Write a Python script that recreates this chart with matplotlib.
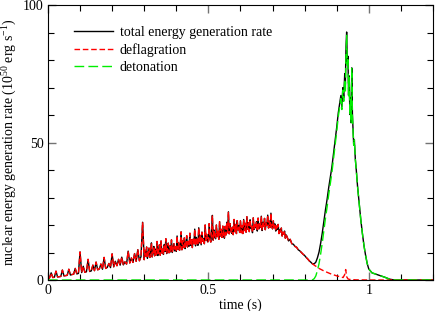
import numpy as np
import matplotlib.pyplot as plt
from matplotlib.ticker import MultipleLocator

plt.rcParams['font.family'] = ['Liberation Serif', 'DejaVu Serif']
plt.rcParams['mathtext.fontset'] = 'custom'
plt.rcParams['mathtext.rm'] = 'Liberation Serif'
plt.rcParams['mathtext.default'] = 'regular'

# deflagration rate (10^50 erg/s)
# early part, every 0.005 s from 0 to 0.295
defl_a = [
    0.3, 0.8, 2.6, 0.9, 1.0, 3.2, 1.1, 1.2, 1.3, 3.6,
    1.5, 1.6, 1.7, 3.9, 1.8, 2.0, 2.1, 4.2, 2.2, 2.4,
    10.2, 2.7, 5.0, 2.8, 3.0, 7.5, 3.1, 3.3, 5.4, 3.4,
    6.5, 3.7, 4.0, 5.8, 3.9, 8.2, 4.2, 4.6, 6.0, 4.5,
    9.5, 4.8, 6.8, 5.2, 7.5, 5.4, 8.3, 5.5, 6.6, 5.8,
    10.5, 6.2, 8.0, 6.4, 9.6, 6.8, 11.0, 7.0, 8.5, 21.0,
]
# noisy middle part, every 0.0025 s from 0.30 to 0.7475
defl_b = [
    7.4, 10.8, 8.6, 12.0, 7.9, 9.5, 11.6, 8.2, 10.1, 13.5, 8.4, 9.8, 12.2, 8.8, 11.2, 9.1, 14.0, 8.9, 10.6, 12.8,
    9.0, 14.2, 9.8, 11.2, 9.3, 12.9, 10.4, 15.0, 9.6, 11.8, 13.4, 9.9, 12.4, 10.2, 14.6, 10.0, 11.5, 13.2, 10.6, 12.1,
    10.4, 16.0, 11.2, 13.5, 10.8, 12.6, 17.5, 11.0, 14.2, 11.8, 15.3, 11.4, 13.1, 16.1, 12.0, 14.0, 12.3, 17.0, 12.6, 14.6,
    11.8, 14.8, 13.2, 18.5, 12.4, 15.5, 13.8, 12.6, 19.0, 13.5, 16.2, 12.8, 17.4, 14.1, 15.0, 13.2, 20.0, 14.4, 16.6, 13.9,
    14.0, 20.5, 15.2, 13.8, 17.0, 23.5, 14.5, 18.2, 15.6, 15.0, 20.0, 15.8, 17.6, 14.8, 21.2, 16.0, 18.4, 15.5, 19.6, 16.3,
    15.2, 19.5, 16.4, 21.0, 17.2, 24.8, 16.8, 20.5, 18.0, 17.0, 19.2, 16.5, 22.0, 17.6, 20.2, 16.9, 21.6, 18.2, 19.8, 17.3,
    21.5, 17.2, 19.8, 16.9, 22.0, 18.0, 20.6, 17.4, 23.0, 18.5, 20.8, 17.6, 21.9, 18.8, 19.5, 17.2, 22.6, 18.4, 20.1, 19.0,
    21.2, 17.8, 22.5, 18.6, 20.4, 19.2, 23.2, 18.0, 21.0, 19.5, 22.4, 18.3, 20.7, 19.8, 23.6, 18.9, 21.4, 19.1, 24.3, 19.6,
    18.6, 21.5, 19.0, 20.4, 17.8, 19.6, 18.4, 20.2, 16.9, 18.2, 17.5, 18.9, 16.0, 17.3, 16.6, 17.8, 15.2, 16.4, 15.8, 15.0,
]
# decline, every 0.005 s from 0.75 to 0.85
defl_c = [
    14.2, 14.8, 13.2, 13.0, 12.2, 11.9, 11.0, 10.6, 10.0, 9.4,
    8.9, 8.2, 7.6, 6.9, 6.4, 5.8, 5.4, 5.0, 4.6, 4.2, 3.9,
]
# tail
t_defl_tail = [0.86, 0.87, 0.88, 0.89, 0.90, 0.91, 0.92, 0.925, 0.928, 0.931,
               0.935, 0.94, 0.96, 1.0, 1.2]
defl_tail = [3.3, 2.8, 2.3, 1.9, 1.5, 1.2, 0.9, 2.0, 3.8, 1.2,
             0.4, 0.2, 0.05, 0.0, 0.0]

t_defl = np.concatenate([
    0.005 * np.arange(len(defl_a)),
    0.30 + 0.0025 * np.arange(len(defl_b)),
    0.75 + 0.005 * np.arange(len(defl_c)),
    t_defl_tail,
])
defl = np.array(defl_a + defl_b + defl_c + defl_tail)

# detonation rate
t_det = [0.0, 0.824, 0.83, 0.835, 0.84, 0.845, 0.85, 0.855, 0.86, 0.865,
         0.87, 0.875, 0.88, 0.885, 0.89, 0.895, 0.9, 0.905, 0.91, 0.913,
         0.916, 0.919, 0.922, 0.925, 0.927, 0.929, 0.931, 0.933, 0.935, 0.937,
         0.939, 0.941, 0.943, 0.945, 0.947, 0.949, 0.951, 0.953, 0.955, 0.958,
         0.961, 0.965, 0.97, 0.975, 0.98, 0.985, 0.99, 0.995, 1.0, 1.01,
         1.03, 1.05, 1.065, 1.08, 1.2]
det = [0.0, 0.0, 0.5, 1.5, 3.5, 6.0, 9.5, 13.5, 18.0, 22.5,
       26.5, 31.0, 35.0, 39.0, 44.0, 49.0, 54.0, 59.5, 63.5, 66.0,
       62.0, 69.0, 65.0, 73.0, 68.0, 82.0, 89.0, 78.0, 81.0, 67.0,
       74.0, 60.0, 66.0, 57.0, 77.0, 60.0, 54.0, 49.0, 51.0, 44.0,
       40.0, 34.0, 28.0, 22.0, 17.0, 12.5, 9.0, 6.0, 4.0, 2.6,
       1.8, 1.0, 0.3, 0.0, 0.0]
t_det = np.array(t_det)
det = np.array(det)

# total = deflagration + detonation on the combined time grid
t_tot = np.union1d(t_defl, t_det)
total = np.interp(t_tot, t_defl, defl) + np.interp(t_tot, t_det, det)

fig = plt.figure(figsize=(4.36, 3.11), dpi=100)
ax = fig.add_axes([0.110, 0.0997, 0.883, 0.884])

ax.plot(t_tot, total, color='black', lw=1.0, label='total energy generation rate')
ax.plot(t_defl, defl, color='#ff0000', lw=1.0, dashes=(4, 2), label='deflagration')
ax.plot(t_det, det, color='#00ee00', lw=1.0, dashes=(7, 3), label='detonation')

ax.set_xlim(0, 1.2)
ax.set_ylim(0, 100)
ax.xaxis.set_major_locator(MultipleLocator(0.5))
ax.xaxis.set_minor_locator(MultipleLocator(0.1))
ax.yaxis.set_major_locator(MultipleLocator(50))
ax.yaxis.set_minor_locator(MultipleLocator(10))
ax.xaxis.set_major_formatter(plt.FuncFormatter(lambda v, p: f'{v:g}'))
ax.tick_params(which='both', direction='in', top=True, right=True, labelsize=10)
ax.tick_params(which='major', length=6, color='0.45', width=1, pad=3)
ax.tick_params(which='minor', length=4, width=0.8)

ax.set_xlabel('time (s)', fontsize=10, labelpad=1)
ax.set_ylabel('nuclear energy generation rate (10$^{50}$ erg s$^{-1}$)', fontsize=10, labelpad=3)

ax.legend(loc='upper left', bbox_to_anchor=(0.035, 0.97), frameon=False, fontsize=10,
          handlelength=2.8, handletextpad=0.5, labelspacing=0.3)

fig.savefig('out.png', dpi=100)
